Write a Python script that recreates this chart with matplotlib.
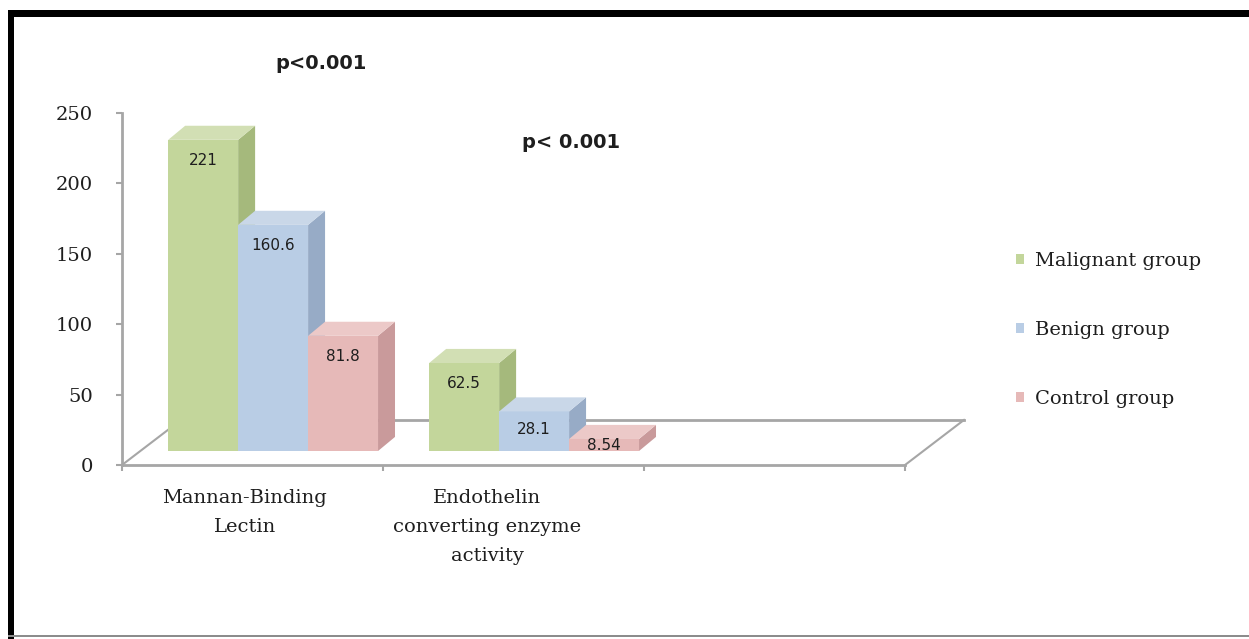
import numpy as np
import matplotlib.pyplot as plt
import matplotlib.transforms as mtransforms
from matplotlib.patches import Polygon, Rectangle, Patch

# data
categories = ['Mannan-Binding\nLectin', 'Endothelin\nconverting enzyme\nactivity']
groups = ['Malignant group', 'Benign group', 'Control group']
malignant = [221, 62.5]
benign = [160.6, 28.1]
control = [81.8, 8.54]
value_labels = [['221', '62.5'], ['160.6', '28.1'], ['81.8', '8.54']]
p_labels = ['p<0.001', 'p< 0.001']

# colours: front, side, top
front_col = ['#c3d69b', '#b9cde5', '#e6b9b8']
side_col = ['#a5b97c', '#97abc6', '#c99a9b']
top_col = ['#d2dfb4', '#c9d7e8', '#ecc9c8']
grey = '#a6a6a6'
txt = '#1e1e1e'
serif = 'DejaVu Serif'

W, H = 1249, 639
fig = plt.figure(figsize=(W / 100, H / 100), dpi=100)
ax = fig.add_axes([122 / W, (H - 465) / H, 783 / W, 352 / H])
ax.set_xlim(0, 3)
ax.set_ylim(0, 250)

# 3d look: depth of a column and depth of the floor, in data units
dep_x, dep_y = 0.065, 10.0
floor_x, floor_y = 0.226, 32.0
bar_w = 0.268
bar_start = 0.177

# floor outline (back edge and the two sides)
ax.plot([floor_x, 3 + floor_x], [floor_y, floor_y], color=grey, lw=2, zorder=1, clip_on=False)
ax.plot([0, floor_x], [0, floor_y], color=grey, lw=1.5, zorder=1, clip_on=False)
ax.plot([3, 3 + floor_x], [0, floor_y], color=grey, lw=1.5, zorder=1, clip_on=False)

# columns sit half way into the floor
bar_tr = mtransforms.offset_copy(ax.transData, fig=fig, x=0, y=14, units='dots')

series = [malignant, benign, control]
for i in range(len(categories)):
    for j, vals in enumerate(series):
        v = vals[i]
        x0 = i + bar_start + j * bar_w
        x1 = x0 + bar_w
        z = 3 + j
        ax.bar(x0, v, width=bar_w, align='edge', color=front_col[j], edgecolor='none',
               transform=bar_tr, zorder=z, clip_on=False)
        side = Polygon([(x1, 0), (x1 + dep_x, dep_y), (x1 + dep_x, v + dep_y), (x1, v)],
                       closed=True, facecolor=side_col[j], edgecolor='none',
                       transform=bar_tr, zorder=z, clip_on=False)
        top = Polygon([(x0, v), (x1, v), (x1 + dep_x, v + dep_y), (x0 + dep_x, v + dep_y)],
                      closed=True, facecolor=top_col[j], edgecolor='none',
                      transform=bar_tr, zorder=z, clip_on=False)
        ax.add_patch(side)
        ax.add_patch(top)
        h_px = v * 352 / 250
        off = min(21, 0.4 * h_px + 2)
        ax.annotate(value_labels[j][i], xy=(x0 + bar_w / 2, v), xycoords=bar_tr,
                    xytext=(0, -off), textcoords='offset pixels', ha='center', va='center',
                    fontsize=11, color=txt, zorder=10)

# axes styling
for s in ['top', 'right']:
    ax.spines[s].set_visible(False)
for s in ['left', 'bottom']:
    ax.spines[s].set_color(grey)
    ax.spines[s].set_linewidth(2)
ax.set_yticks([0, 50, 100, 150, 200, 250])
ax.tick_params(axis='y', direction='out', length=4, width=1.5, color=grey, pad=17,
               labelsize=14, labelcolor=txt)
for lab in ax.get_yticklabels():
    lab.set_family(serif)
ax.set_xticks([0, 1, 2, 3])
ax.set_xticklabels([])
ax.tick_params(axis='x', direction='out', length=4, width=1.5, color=grey)
ax.set_facecolor('none')

# category names
xtr = ax.get_xaxis_transform()
for xc, name in zip([0.47, 1.40], categories):
    ax.text(xc, -0.068, name, transform=xtr, ha='center', va='top', multialignment='center',
            fontsize=14, family=serif, color=txt, linespacing=1.78)

# p values
ax.text(0.762, 285.5, p_labels[0], ha='center', va='center', fontsize=14,
        fontweight='bold', color=txt, clip_on=False)
ax.text(1.72, 228.7, p_labels[1], ha='center', va='center', fontsize=14,
        fontweight='bold', color=txt, clip_on=False)

# legend
handles = [Patch(facecolor=c, edgecolor='none') for c in front_col]
leg = fig.legend(handles, groups, loc='center left', bbox_to_anchor=(1006 / W, 1 - 330 / H),
                 frameon=False, handlelength=0.4, handleheight=0.4, handletextpad=0.6,
                 labelspacing=2.62, borderpad=0,
                 prop={'family': serif, 'size': 14})
for t in leg.get_texts():
    t.set_color(txt)

# outer frame
fig.add_artist(Rectangle((8 / W, 1 - 17 / H), 1 - 8 / W, 7 / H, transform=fig.transFigure,
                         facecolor='black', edgecolor='none'))
fig.add_artist(Rectangle((8 / W, 0), 6 / W, 1 - 10 / H, transform=fig.transFigure,
                         facecolor='black', edgecolor='none'))
fig.add_artist(Rectangle((8 / W, 2 / H), 1 - 8 / W, 2 / H, transform=fig.transFigure,
                         facecolor='#8c8c8c', edgecolor='none'))

fig.savefig('out.png', dpi=100)
